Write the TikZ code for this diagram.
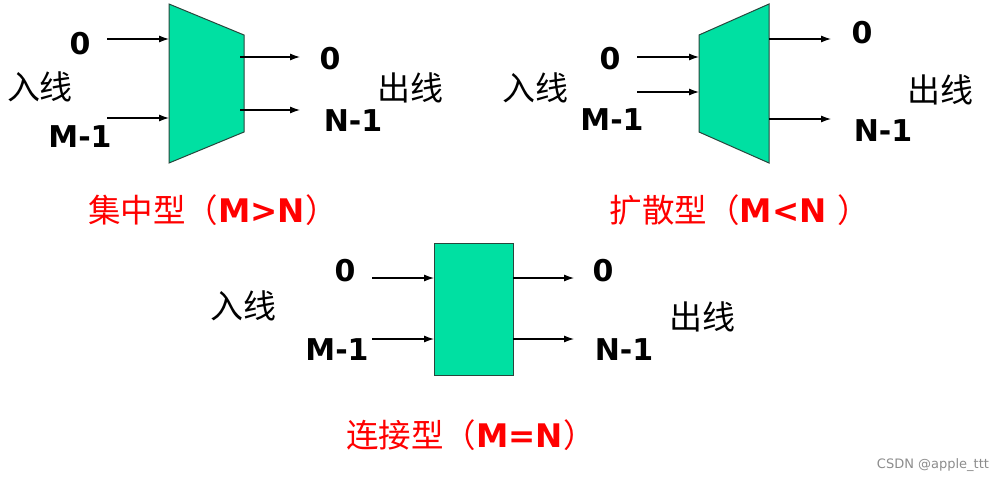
\documentclass[tikz,border=0pt]{standalone}
\usepackage{fontspec}
\setmainfont{DejaVu Sans}
\newfontfamily\cjk{Noto Sans CJK SC}
\newfontfamily\lat{DejaVu Sans}
\usetikzlibrary{arrows.meta}
\definecolor{boxgreen}{RGB}{0,224,162}
\definecolor{boxedge}{RGB}{40,70,60}
\begin{document}
\begin{tikzpicture}[x=1pt,y=-1pt,
  lbl/.style={font=\lat\bfseries\fontsize{30}{30}\selectfont, inner sep=0pt, anchor=center},
  cjklbl/.style={font=\cjk\fontsize{33}{33}\selectfont, inner sep=0pt, anchor=center},
  title/.style={font=\fontsize{32.5}{32.5}\selectfont, text=red, inner sep=0pt, anchor=center},
  blk/.style={fill=boxgreen, draw=boxedge, line width=1pt, line join=miter},
  arr/.style={-{Latex[length=10pt,width=7pt]}, line width=1.1pt},
]
\useasboundingbox (0,0) rectangle (1005,482);

% ---------- concentrator ----------
\draw[blk] (169,4) -- (244,35) -- (244,132) -- (169,163) -- cycle;
\coordinate (a1i0s) at (107,39);  \coordinate (a1i0e) at (169,39);
\coordinate (a1i1s) at (107,118); \coordinate (a1i1e) at (169,118);
\coordinate (a1o0s) at (240,57);  \coordinate (a1o0e) at (300,57);
\coordinate (a1o1s) at (240,110); \coordinate (a1o1e) at (300,110);
\draw[arr] (a1i0s) -- (a1i0e);
\draw[arr] (a1i1s) -- (a1i1e);
\draw[arr] (a1o0s) -- (a1o0e);
\draw[arr] (a1o1s) -- (a1o1e);
\node[lbl] (a1in0) at (80,44) {0};
\node[lbl] (a1inm) at (80,137) {M-1};
\node[cjklbl] (a1inl) at (40,87) {入线};
\node[lbl] (a1out0) at (330,59) {0};
\node[lbl] (a1outn) at (353,121) {N-1};
\node[cjklbl] (a1outl) at (410,88) {出线};
\node[title] (a1t) at (213,210) {{\cjk 集中型（}{\bfseries M>N}{\cjk ）}};

% ---------- expander ----------
\draw[blk] (699,35) -- (769,4) -- (769,163) -- (699,132) -- cycle;
\coordinate (a2i0s) at (637,57);  \coordinate (a2i0e) at (699,57);
\coordinate (a2i1s) at (637,92);  \coordinate (a2i1e) at (699,92);
\coordinate (a2o0s) at (769,39);  \coordinate (a2o0e) at (831,39);
\coordinate (a2o1s) at (769,119); \coordinate (a2o1e) at (831,119);
\draw[arr] (a2i0s) -- (a2i0e);
\draw[arr] (a2i1s) -- (a2i1e);
\draw[arr] (a2o0s) -- (a2o0e);
\draw[arr] (a2o1s) -- (a2o1e);
\node[lbl] (a2in0) at (610,59) {0};
\node[lbl] (a2inm) at (612,120) {M-1};
\node[cjklbl] (a2inl) at (535,88) {入线};
\node[lbl] (a2out0) at (862,33) {0};
\node[lbl] (a2outn) at (883,131) {N-1};
\node[cjklbl] (a2outl) at (940,90) {出线};
\node[title] (a2t) at (740,210) {{\cjk 扩散型（}{\bfseries M<N }{\cjk ）}};

% ---------- connector ----------
\node[blk, minimum width=79pt, minimum height=132pt, inner sep=0pt, anchor=north west] (r3) at (434,243) {};
\coordinate (a3i0s) at (372,278); \coordinate (a3i0e) at (434,278);
\coordinate (a3i1s) at (372,339); \coordinate (a3i1e) at (434,339);
\coordinate (a3o0s) at (513,278); \coordinate (a3o0e) at (574,278);
\coordinate (a3o1s) at (513,339); \coordinate (a3o1e) at (574,339);
\draw[arr] (a3i0s) -- (a3i0e);
\draw[arr] (a3i1s) -- (a3i1e);
\draw[arr] (a3o0s) -- (a3o0e);
\draw[arr] (a3o1s) -- (a3o1e);
\node[lbl] (a3in0) at (345,271) {0};
\node[lbl] (a3inm) at (337,350) {M-1};
\node[cjklbl] (a3inl) at (243,306) {入线};
\node[lbl] (a3out0) at (603,271) {0};
\node[lbl] (a3outn) at (624,350) {N-1};
\node[cjklbl] (a3outl) at (702,317) {出线};
\node[title] (a3t) at (471,435) {{\cjk 连接型（}{\bfseries M=N}{\cjk ）}};

% watermark
\node[font=\lat\fontsize{13}{13}\selectfont, text=black!45, inner sep=0pt] (wm) at (933,465) {CSDN @apple\_ttt};
\end{tikzpicture}
\end{document}
